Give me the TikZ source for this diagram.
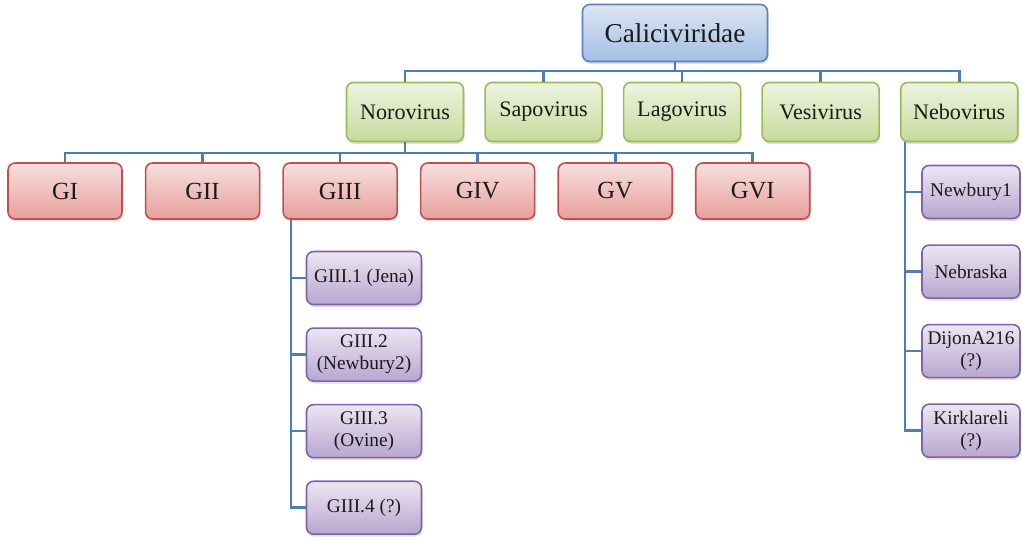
\documentclass[tikz,border=0pt]{standalone}
\usepackage{fontspec}
\setmainfont{Liberation Serif}
\newfontfamily\treefont{Liberation Serif}
\usetikzlibrary{positioning, shadows}
\usepackage{xcolor}

\definecolor{linkblue}{HTML}{4A7EBB}
\definecolor{famtop}{HTML}{DCE6F4}
\definecolor{fambot}{HTML}{A3BEE3}
\definecolor{famedge}{HTML}{5B84BE}
\definecolor{gentop}{HTML}{EEF4E0}
\definecolor{genbot}{HTML}{C6DA9C}
\definecolor{genedge}{HTML}{9BBB59}
\definecolor{grptop}{HTML}{F6E0DF}
\definecolor{grpbot}{HTML}{E89E9C}
\definecolor{grpedge}{HTML}{C0504D}
\definecolor{strtop}{HTML}{ECE6F2}
\definecolor{strbot}{HTML}{B8A6CF}
\definecolor{stredge}{HTML}{8064A2}
\definecolor{inktext}{HTML}{1A1A1A}

\begin{document}
\begin{tikzpicture}[
    x=0.02cm, y=-0.02cm,
    node distance=0.5cm,
    basebox/.style={draw, rectangle, rounded corners=4pt, align=center, inner sep=2pt,
        line width=0.9pt, text=inktext,
        drop shadow={opacity=0.25, shadow xshift=0.6pt, shadow yshift=-1.4pt}},
    family/.style={basebox, draw=famedge, top color=famtop, bottom color=fambot,
        minimum width=3.7cm, minimum height=1.14cm, font=\treefont\fontsize{15.5}{18}\selectfont},
    genus/.style={basebox, draw=genedge, top color=gentop, bottom color=genbot,
        minimum width=2.34cm, minimum height=1.18cm, font=\treefont\fontsize{12.6}{15}\selectfont},
    group/.style={basebox, draw=grpedge, top color=grptop, bottom color=grpbot,
        minimum width=2.28cm, minimum height=1.12cm, font=\treefont\fontsize{14}{16}\selectfont},
    strain/.style={basebox, draw=stredge, top color=strtop, bottom color=strbot,
        minimum height=1.06cm, font=\treefont\fontsize{11}{12.4}\selectfont},
    link/.style={draw=linkblue, line width=1.5pt}
]
\useasboundingbox (0,0) rectangle (1022,545);

% Familie
\node[family] (cal) at (675,33) {Caliciviridae};

% Gattungen
\node[genus] (noro) at (405,112) {Norovirus};
\node[genus, right=0.4cm of noro] (sapo) {Sapovirus};
\node[genus, right=0.4cm of sapo] (lago) {Lagovirus};
\node[genus, right=0.4cm of lago] (vesi) {Vesivirus};
\node[genus, right=0.4cm of vesi] (nebo) {Nebovirus};

% Genogruppen
\node[group] (g1) at (65,191) {GI};
\node[group, right=0.44cm of g1] (g2) {GII};
\node[group, right=0.44cm of g2] (g3) {GIII};
\node[group, right=0.44cm of g3] (g4) {GIV};
\node[group, right=0.44cm of g4] (g5) {GV};
\node[group, right=0.44cm of g5] (g6) {GVI};

% GIII Stämme
\node[strain, minimum width=2.3cm] (g31) at (364,278) {GIII.1 (Jena)};
\node[strain, minimum width=2.3cm, below=0.44cm of g31] (g32) {GIII.2\\(Newbury2)};
\node[strain, minimum width=2.3cm, below=0.44cm of g32] (g33) {GIII.3\\(Ovine)};
\node[strain, minimum width=2.3cm, below=0.44cm of g33] (g34) {GIII.4 (?)};

% Nebovirus Stämme
\node[strain, minimum width=1.96cm] (nb1) at (971,192) {Newbury1};
\node[strain, minimum width=1.96cm, below=0.5cm of nb1] (nb2) {Nebraska};
\node[strain, minimum width=1.96cm, below=0.5cm of nb2] (nb3) {DijonA216\\(?)};
\node[strain, minimum width=1.96cm, below=0.5cm of nb3] (nb4) {Kirklareli\\(?)};

% Verbindungen
\coordinate (calbus) at (675,71);
\coordinate (norobus) at (405,153);
\coordinate (g3root) at (291,0);
\coordinate (nebroot) at (905,0);

\foreach \n in {noro,sapo,lago,vesi,nebo}
    \draw[link] (cal.south) |- (\n.north |- calbus) -- (\n.north);
\foreach \n in {g1,g2,g3,g4,g5,g6}
    \draw[link] (noro.south) |- (\n.north |- norobus) -- (\n.north);
\foreach \n in {g31,g32,g33,g34}
    \draw[link] (g3root |- g3.south) |- (\n.west);
\foreach \n in {nb1,nb2,nb3,nb4}
    \draw[link] (nebroot |- nebo.south) |- (\n.west);

\end{tikzpicture}
\end{document}
